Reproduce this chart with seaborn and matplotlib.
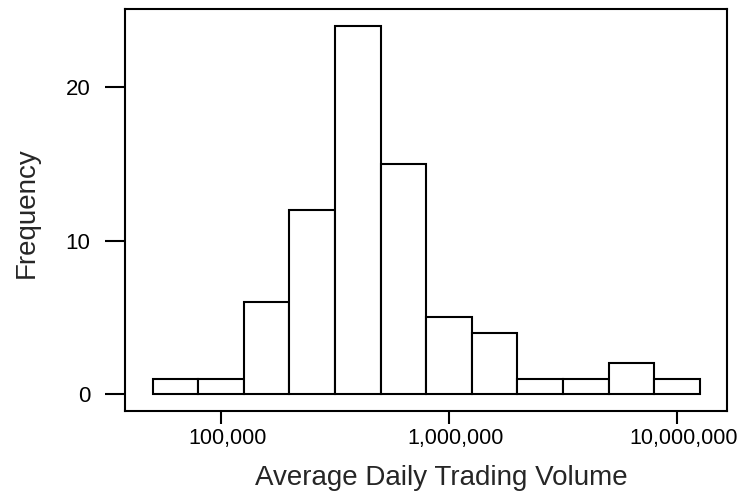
import numpy as np
import pandas as pd
import matplotlib
matplotlib.use("Agg")
import matplotlib.pyplot as plt
import matplotlib.transforms as mtransforms
import seaborn as sns
from matplotlib.ticker import FixedLocator, FuncFormatter, NullLocator

# Data: bin midpoints (trading volume) and frequencies
bin_mids = [10**4.8, 10**5.0, 10**5.2, 10**5.4, 10**5.6, 10**5.8,
            10**6.0, 10**6.2, 10**6.4, 10**6.6, 10**6.8, 10**7.0]
frequency = [1, 1, 6, 12, 24, 15, 5, 4, 1, 1, 2, 1]
x_ticks = [100000, 1000000, 10000000]
y_ticks = [0, 10, 20]

df = pd.DataFrame({"volume": bin_mids, "freq": frequency})

sns.set_style("ticks")
plt.rcParams['font.family'] = ['Liberation Sans', 'DejaVu Sans']

fig = plt.figure(figsize=(7.47, 4.93), dpi=100)
ax = fig.add_axes([125/747, 1-411/493, 602/747, 402/493])

sns.histplot(data=df, x="volume", weights="freq", log_scale=True,
             binwidth=0.2, binrange=(4.7, 7.1),
             color="white", edgecolor="black", linewidth=1.5, alpha=1,
             ax=ax)

ax.set_xlim(10**4.579, 10**7.219)
ax.set_ylim(-1.11, 25.1)
ax.xaxis.set_major_locator(FixedLocator(x_ticks))
ax.xaxis.set_minor_locator(NullLocator())
ax.xaxis.set_major_formatter(FuncFormatter(lambda v, p: f"{int(round(v)):,}"))
ax.set_yticks(y_ticks)

for s in ax.spines.values():
    s.set_linewidth(1.5)
    s.set_color("black")
ax.tick_params(axis="x", direction="out", length=9.4, width=1.5,
               labelsize=15.5, colors="black", pad=3)
ax.tick_params(axis="y", direction="out", length=14.5, width=1.5,
               labelsize=16, colors="black", pad=10.5)

ax.set_xlabel("Average Daily Trading Volume", fontsize=20)
ax.set_ylabel("Frequency", fontsize=20)
ax.xaxis.set_label_coords(0.525, -0.135)
ax.yaxis.set_label_coords(-0.141, 0.4925)

fig.canvas.draw()
shift = mtransforms.ScaledTranslation(7/100, 0, fig.dpi_scale_trans)
for lbl in ax.get_xticklabels():
    lbl.set_transform(lbl.get_transform() + shift)

fig.savefig("out.png", dpi=100)
